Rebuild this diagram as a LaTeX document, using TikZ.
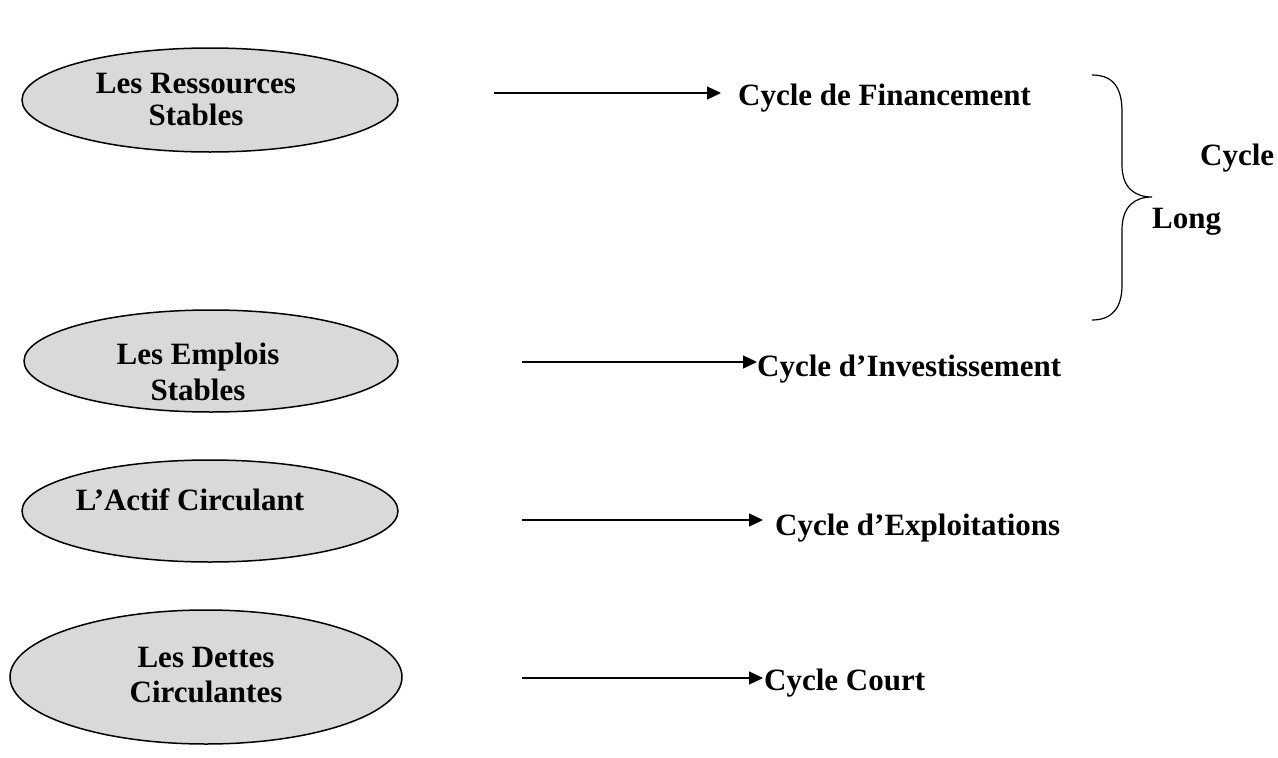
\documentclass[tikz,border=0pt]{standalone}
\usepackage{fontspec}
\setmainfont{Liberation Serif}
\usetikzlibrary{shapes.geometric,arrows.meta}
\definecolor{ellfill}{RGB}{217,217,217}
\tikzset{
  ell/.style={ellipse, draw=black, line width=1.5pt, fill=ellfill, inner sep=0pt},
  lbl/.style={font=\fontsize{31}{35}\selectfont\bfseries, align=center, inner sep=0pt},
  cyc/.style={font=\fontsize{31}{35}\selectfont\bfseries, anchor=base west, inner sep=0pt},
  arr/.style={line width=1.3pt, -{Triangle[length=14pt,width=13pt]}},
}
\begin{document}
\begin{tikzpicture}[x=1pt,y=-1pt]
\useasboundingbox (0,0) rectangle (1278,758);
% ellipses
\node[ell, minimum width=376pt, minimum height=104pt] (e1) at (210,100) {};
\node[ell, minimum width=374pt, minimum height=102pt] (e2) at (211,361) {};
\node[ell, minimum width=376pt, minimum height=102pt] (e3) at (210,511) {};
\node[ell, minimum width=392pt, minimum height=134pt] (e4) at (206,677) {};
\node[lbl, font=\fontsize{31}{32}\selectfont\bfseries] (t1) at (196,99) {Les Ressources\\Stables};
\node[lbl, font=\fontsize{31}{36}\selectfont\bfseries] (t2) at (198,372) {Les Emplois\\Stables};
\node[lbl] (t3) at (190,500) {L’Actif Circulant};
\node[lbl] (t4) at (206,675) {Les Dettes\\Circulantes};
% cycle labels
\node[cyc] (c1) at (738,105) {Cycle de Financement};
\node[cyc] (c2) at (757,376) {Cycle d’Investissement};
\node[cyc] (c3) at (775,535) {Cycle d’Exploitations};
\node[cyc] (c4) at (764,690) {Cycle Court};
% arrows
\coordinate (s1) at (494,93);
\coordinate (s2) at (522,362);
\coordinate (s3) at (522,520);
\coordinate (s4) at (522,678);
\coordinate (p1) at (721,93);
\coordinate (p2) at (757,362);
\coordinate (p3) at (763,520);
\coordinate (p4) at (763,678);
\draw[arr] (s1) -- (p1);
\draw[arr] (s2) -- (p2);
\draw[arr] (s3) -- (p3);
\draw[arr] (s4) -- (p4);
% brace
\coordinate (btop) at (1092,75);
\coordinate (btip) at (1152,197);
\coordinate (bbot) at (1092,320);
\draw[line width=1.2pt] (btop) .. controls (1115,75) and (1122,90) .. (1122,112)
  -- (1122,165) .. controls (1122,188) and (1135,197) .. (btip)
  .. controls (1135,197) and (1122,206) .. (1122,230)
  -- (1122,285) .. controls (1122,308) and (1112,320) .. (bbot);
\node[cyc] (lc) at (1200,165) {Cycle};
\node[cyc] (ll) at (1152,228) {Long};
\end{tikzpicture}
\end{document}
